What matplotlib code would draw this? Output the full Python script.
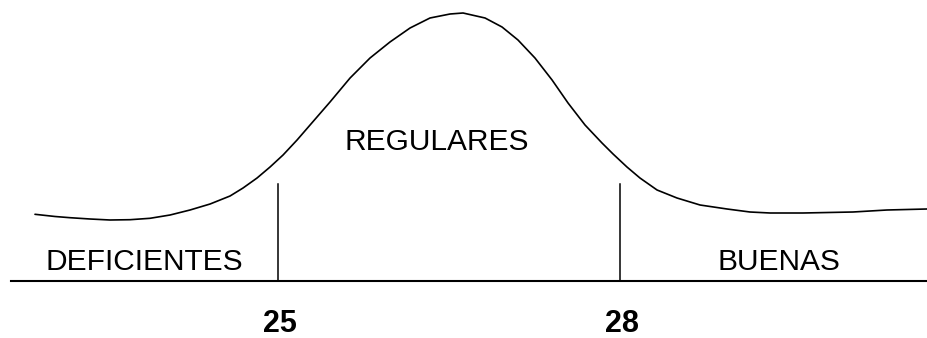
import matplotlib
matplotlib.use("Agg")
import matplotlib.pyplot as plt

# Curve: x in score units, y in relative height
curve_x = [22.868, 23.044, 23.175, 23.351, 23.526, 23.702, 23.877, 24.053, 24.228,
           24.404, 24.579, 24.693, 24.816, 24.930, 25.044, 25.167, 25.281, 25.456,
           25.632, 25.807, 25.982, 26.158, 26.333, 26.509, 26.623, 26.816, 26.965,
           27.105, 27.254, 27.404, 27.544, 27.693, 27.842, 27.939, 28.061, 28.175,
           28.325, 28.500, 28.702, 28.939, 29.140, 29.316, 29.605, 30.044, 30.342,
           30.693]
curve_y = [0.667, 0.645, 0.633, 0.620, 0.610, 0.613, 0.627, 0.660, 0.710,
           0.770, 0.850, 0.930, 1.030, 1.140, 1.260, 1.410, 1.560, 1.790,
           2.030, 2.230, 2.390, 2.530, 2.630, 2.670, 2.680, 2.630, 2.540,
           2.410, 2.230, 2.010, 1.780, 1.560, 1.380, 1.270, 1.140, 1.030,
           0.910, 0.830, 0.760, 0.720, 0.690, 0.680, 0.680, 0.690, 0.710,
           0.720]

cut_points = [25, 28]
cut_labels = ["25", "28"]
cut_height = 0.97

region_labels = ["DEFICIENTES", "REGULARES", "BUENAS"]
region_x = [23.83, 26.39, 29.39]
region_y = [0.11, 1.31, 0.11]

fig = plt.figure(figsize=(9.27, 3.38), dpi=100)
ax = fig.add_axes([0, 0, 1, 1])
ax.set_xlim(22.561, 30.693)
ax.set_ylim(-0.57, 2.81)
ax.axis("off")

font = ["Liberation Sans", "DejaVu Sans"]

ax.plot(curve_x, curve_y, color="black", lw=1.2, solid_capstyle="round",
        solid_joinstyle="round")
ax.plot([22.66, 30.75], [0, 0], color="black", lw=1.5)
for c, lab in zip(cut_points, cut_labels):
    ax.plot([c, c], [0, cut_height], color="black", lw=1.1)
    ax.text(c + 0.02, -0.51, lab, ha="center", va="baseline", fontsize=22,
            fontweight="bold", family=font)

for lab, x, y in zip(region_labels, region_x, region_y):
    ax.text(x, y, lab, ha="center", va="baseline", fontsize=21.5, family=font)

fig.savefig("out.png", dpi=100)
